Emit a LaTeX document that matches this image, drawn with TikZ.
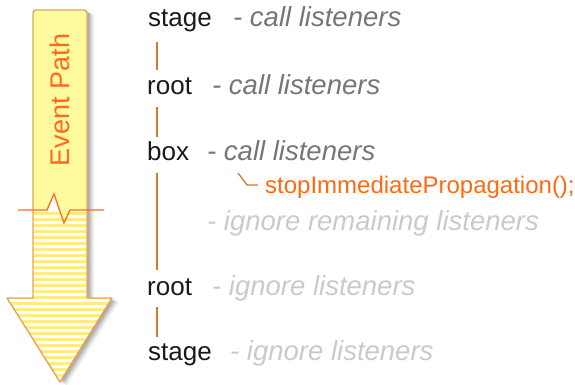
\documentclass[tikz,border=0pt]{standalone}
\usepackage{fontspec}
\setmainfont{Liberation Sans}
\definecolor{labblack}{HTML}{1A1A1A}
\definecolor{actgray}{HTML}{767676}
\definecolor{igngray}{HTML}{CACACA}
\definecolor{connc}{HTML}{D07A2A}
\definecolor{stoporange}{HTML}{FF6A10}
\definecolor{pathorange}{HTML}{FF6A20}
\definecolor{arrowyellow}{HTML}{FFFA9E}
\definecolor{stripeyellow}{HTML}{FFEC80}
\definecolor{arrowborder}{HTML}{E2A45E}
\begin{document}
\begin{tikzpicture}[x=1pt,y=-1pt,
  lab/.style={anchor=base west,inner sep=0pt,font=\fontsize{26}{26}\selectfont,text=labblack},
  act/.style={anchor=base west,inner sep=0pt,font=\fontsize{27.5}{27.5}\selectfont\itshape,text=actgray},
  ign/.style={act,text=igngray},
  stoptext/.style={anchor=base west,inner sep=0pt,font=\fontsize{24}{24}\selectfont,text=stoporange},
  conn/.style={draw=connc,line width=1.6pt},
  hookline/.style={draw=connc,line width=1.3pt},
  arrowpath/.style={insert path={(33,298) [rounded corners=3pt]-- (33,10) -- (87,10) [sharp corners]-- (87,298) -- (112,298) -- (60,382) -- (7,298) -- cycle}},
  upperpath/.style={insert path={(33,210) [rounded corners=3pt]-- (33,10) -- (87,10) [sharp corners]-- (87,210) -- (70,210) -- (64,223) -- (54,194) -- (47,210) -- cycle}},
  breakline/.style={draw=pathorange,line width=1.3pt,line join=miter}
]
\useasboundingbox (0,0) rectangle (575,385);
% shadow
\foreach \o/\op in {7/0.06,5.5/0.08,4/0.10,2.5/0.12}{
  \fill[black,opacity=\op,shift={(\o,\o*0.5)},arrowpath];
}
% striped body
\begin{scope}
  \clip[arrowpath];
  \fill[white] (0,0) rectangle (120,385);
  \foreach \yy in {212,218,...,384}{
    \fill[stripeyellow] (0,\yy) rectangle (120,\yy+3);
  }
\end{scope}
\fill[arrowyellow,upperpath];
\draw[arrowborder,line width=1.4pt,line join=round,arrowpath];
% break line
\coordinate (bl) at (18,210);
\coordinate (br) at (104,210);
\draw[breakline] (bl) -- (47,210) -- (54,194) -- (64,223) -- (70,210) -- (br);
\node[rotate=90,text=pathorange,font=\fontsize{27}{27}\selectfont,inner sep=0pt] (ep) at (60,100) {Event Path};
% labels
\node[lab] (s1) at (148,27) {stage};
\node[act] (a1) at (233,27) {- call listeners};
\node[lab] (r1) at (147,95) {root};
\node[act] (a2) at (212,95) {- call listeners};
\node[lab] (b1) at (147,160) {box};
\node[act] (a3) at (207,160) {- call listeners};
\node[stoptext] (stop) at (265,193) {stopImmediatePropagation();};
\node[ign] (g1) at (207,230) {- ignore remaining listeners};
\node[lab] (r2) at (147,295) {root};
\node[ign] (g2) at (212,295) {- ignore listeners};
\node[lab] (s2) at (148,360) {stage};
\node[ign] (g3) at (230,360) {- ignore listeners};
% connectors
\coordinate (c1a) at (157,42); \coordinate (c1b) at (157,70);
\coordinate (c2a) at (157,107); \coordinate (c2b) at (157,137);
\coordinate (c3a) at (157,173); \coordinate (c3b) at (157,270);
\coordinate (c4a) at (157,307); \coordinate (c4b) at (157,337);
\draw[conn] (c1a) -- (c1b);
\draw[conn] (c2a) -- (c2b);
\draw[conn] (c3a) -- (c3b);
\draw[conn] (c4a) -- (c4b);
\coordinate (h1) at (238,173);
\coordinate (h2) at (247,185);
\coordinate (h3) at (258,185);
\draw[hookline] (h1) -- (h2) -- (h3);
\end{tikzpicture}
\end{document}
